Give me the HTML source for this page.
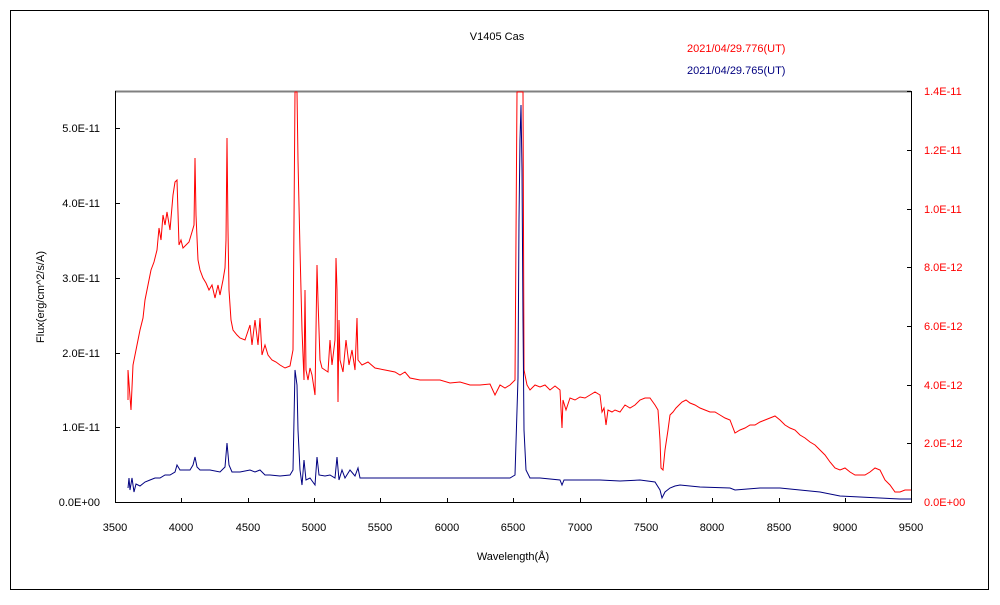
<!DOCTYPE html>
<html><head><meta charset="utf-8"><style>
body{margin:0;background:#fff;width:1000px;height:600px;overflow:hidden}
text{font-family:"Liberation Sans","Noto Sans CJK JP",sans-serif;font-size:11px}
</style></head><body>
<svg width="1000" height="600" xmlns="http://www.w3.org/2000/svg">
<rect x="10.5" y="10.5" width="978" height="579" fill="#fff" stroke="#000"/>
<line x1="115" y1="91.5" x2="911" y2="91.5" stroke="#808080" stroke-width="2"/>
<line x1="115.5" y1="91" x2="115.5" y2="503" stroke="#000"/>
<line x1="911.5" y1="91" x2="911.5" y2="503" stroke="#000"/>
<line x1="115" y1="502.5" x2="912" y2="502.5" stroke="#000"/>
<g stroke="#000">
<line x1="116" y1="128.5" x2="120" y2="128.5"/><line x1="116" y1="203.5" x2="120" y2="203.5"/><line x1="116" y1="278.5" x2="120" y2="278.5"/><line x1="116" y1="353.5" x2="120" y2="353.5"/><line x1="116" y1="427.5" x2="120" y2="427.5"/>
<line x1="907" y1="91.5" x2="911" y2="91.5"/><line x1="907" y1="150.5" x2="911" y2="150.5"/><line x1="907" y1="209.5" x2="911" y2="209.5"/><line x1="907" y1="267.5" x2="911" y2="267.5"/><line x1="907" y1="326.5" x2="911" y2="326.5"/><line x1="907" y1="385.5" x2="911" y2="385.5"/><line x1="907" y1="443.5" x2="911" y2="443.5"/>
<line x1="181.5" y1="498" x2="181.5" y2="502"/><line x1="248.5" y1="498" x2="248.5" y2="502"/><line x1="314.5" y1="498" x2="314.5" y2="502"/><line x1="380.5" y1="498" x2="380.5" y2="502"/><line x1="447.5" y1="498" x2="447.5" y2="502"/><line x1="513.5" y1="498" x2="513.5" y2="502"/><line x1="580.5" y1="498" x2="580.5" y2="502"/><line x1="646.5" y1="498" x2="646.5" y2="502"/><line x1="712.5" y1="498" x2="712.5" y2="502"/><line x1="779.5" y1="498" x2="779.5" y2="502"/><line x1="845.5" y1="498" x2="845.5" y2="502"/>
</g>
<g text-anchor="end" fill="#000">
<text x="100" y="132">5.0E-11</text><text x="100" y="207">4.0E-11</text><text x="100" y="282">3.0E-11</text><text x="100" y="357">2.0E-11</text><text x="100" y="431">1.0E-11</text><text x="100" y="506">0.0E+00</text>
</g>
<g fill="#f00">
<text x="924" y="95">1.4E-11</text><text x="924" y="154">1.2E-11</text><text x="924" y="213">1.0E-11</text><text x="924" y="271">8.0E-12</text><text x="924" y="330">6.0E-12</text><text x="924" y="389">4.0E-12</text><text x="924" y="447">2.0E-12</text><text x="924" y="506">0.0E+00</text>
</g>
<g text-anchor="middle" fill="#000">
<text x="115" y="531">3500</text><text x="181" y="531">4000</text><text x="248" y="531">4500</text><text x="314" y="531">5000</text><text x="380" y="531">5500</text><text x="447" y="531">6000</text><text x="513" y="531">6500</text><text x="580" y="531">7000</text><text x="646" y="531">7500</text><text x="712" y="531">8000</text><text x="779" y="531">8500</text><text x="845" y="531">9000</text><text x="911" y="531">9500</text>
<text x="513" y="560">Wavelength(Å)</text>
<text x="497" y="40">V1405 Cas</text>
<text transform="translate(44,297) rotate(-90)">Flux(erg/cm^2/s/A)</text>
</g>
<text x="687" y="52" fill="#f00">2021/04/29.776(UT)</text>
<text x="687" y="74" fill="#000080">2021/04/29.765(UT)</text>
<polyline fill="none" stroke="#f00" stroke-width="1" points="128,400 128,370 131,410 133,365 137,345 140,330 143,318 145,300 148,285 151,270 154,262 157,250 159,228 161,240 163,215 165,225 167,212 170,230 173,195 175,182 177,180 179,245 181,240 183,248 186,245 189,242 192,232 194,225 195,158 196,215 198,260 200,270 203,278 206,283 209,290 212,285 215,298 218,285 220,295 223,280 225,268 226,240 227,138 228,230 229,290 231,320 233,330 237,335 240,338 245,340 250,325 252,345 255,320 258,345 260,318 262,355 265,345 268,355 272,360 276,362 280,365 285,368 290,366 293,350 295,92 297,92 298,160 300,250 302,330 304,380 305,290 306,370 308,380 310,368 312,375 315,395 317,265 318,300 320,360 322,368 325,370 328,372 330,340 332,365 335,340 336,258 337,290 338,402 339,320 340,360 343,372 346,340 349,365 352,350 355,370 357,318 358,360 362,365 368,362 375,368 385,370 395,372 400,375 405,372 410,378 420,380 430,380 440,380 450,383 460,382 470,385 480,385 490,384 495,395 500,385 505,388 510,385 515,380 517,92 523,92 524,370 527,385 530,390 535,385 540,387 545,385 550,390 555,386 560,390 562,428 563,400 566,410 570,398 575,400 580,397 585,398 590,395 595,392 600,395 602,412 604,408 606,425 608,410 612,412 615,410 620,412 625,405 630,408 635,405 640,400 645,398 650,398 655,405 658,410 660,440 661,468 663,470 665,450 668,430 670,415 673,412 676,408 679,405 682,402 686,400 690,403 695,405 700,408 705,410 710,412 715,412 720,415 725,418 730,420 735,433 740,430 745,428 750,425 755,425 760,422 765,420 770,418 775,416 780,420 785,425 790,428 795,430 800,435 805,438 810,442 815,445 820,450 825,455 830,462 835,468 840,470 845,468 850,472 855,475 860,475 865,475 870,472 875,468 880,470 885,480 890,485 895,492 900,492 905,490 911,490"/>
<polyline fill="none" stroke="#000080" stroke-width="1" points="128,488 129,478 130,490 132,478 134,492 136,484 140,486 145,482 150,480 155,478 160,478 165,475 170,475 175,472 177,465 180,470 185,470 190,470 193,465 195,457 197,467 200,470 210,470 220,472 225,467 227,443 229,465 232,472 240,472 250,470 255,472 260,470 265,475 270,475 280,476 290,475 293,470 295,370 297,385 298,430 300,470 302,485 304,460 306,480 310,478 315,485 317,457 319,475 325,476 330,475 335,478 337,457 339,480 342,470 345,478 350,470 355,476 358,468 360,478 370,478 400,478 430,478 460,478 490,478 510,478 515,475 518,378 519,220 520,140 521,105 522,170 523,320 524,430 526,470 530,478 540,478 560,480 562,485 564,480 580,480 600,480 620,481 640,480 655,482 660,490 662,498 665,492 670,488 675,486 680,485 700,487 730,488 735,490 760,488 780,488 800,490 820,492 840,496 860,497 880,498 900,499 911,499"/>
</svg>
</body></html>
